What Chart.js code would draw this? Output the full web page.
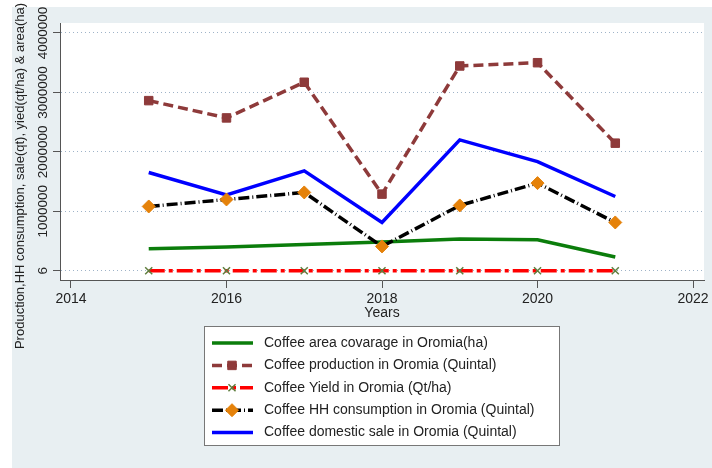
<!DOCTYPE html>
<html lang="en">
<head>
    <meta charset="UTF-8">
    <title>Coffee in Oromia</title>
    <style>
        body {
            margin: 0;
            padding: 0;
            background-color: #ffffff;
        }
        #wrap {
            width: 712px;
            height: 468px;
        }
    </style>
    <script src="https://cdn.jsdelivr.net/npm/chart.js"></script>
</head>
<body>

<div id="wrap">
    <canvas id="coffeeChart" width="712" height="468"></canvas>
</div>

<script>
    // Data
    const years = [2015, 2016, 2017, 2018, 2019, 2020, 2021];
    const areaHa = [370000, 400000, 440000, 482000, 533000, 521000, 230000];
    const production = [2862000, 2571000, 3171000, 1289000, 3445000, 3500000, 2146000];
    const yieldQtHa = [6, 6, 6, 6, 6, 6, 6];
    const hhConsumption = [1081000, 1199000, 1317000, 409000, 1098000, 1474000, 812000];
    const domesticSale = [1652000, 1277000, 1680000, 812000, 2202000, 1837000, 1249000];

    const xTicks = [2014, 2016, 2018, 2020, 2022];
    const yTicks = [6, 1000000, 2000000, 3000000, 4000000];
    const yTickLabels = ['6', '1000000', '2000000', '3000000', '4000000'];

    const seriesNames = [
        'Coffee area covarage in Oromia(ha)',
        'Coffee production in Oromia (Quintal)',
        'Coffee Yield in Oromia (Qt/ha)',
        'Coffee HH consumption in Oromia (Quintal)',
        'Coffee domestic sale in Oromia (Quintal)'
    ];

    const FONT = '"Liberation Sans", Arial, sans-serif';
    const toXY = vals => years.map((yr, i) => ({ x: yr, y: vals[i] }));

    // background, white plot area, y labels, titles and the boxed legend
    const decorations = {
        id: 'decorations',
        beforeDraw(chart) {
            const { ctx, chartArea } = chart;
            ctx.save();
            ctx.fillStyle = '#ffffff';
            ctx.fillRect(0, 0, chart.width, chart.height);
            ctx.fillStyle = '#e8eff2';
            ctx.fillRect(12, 7, chart.width - 12, chart.height - 7);
            ctx.fillStyle = '#ffffff';
            ctx.fillRect(chartArea.left, chartArea.top, chartArea.right - chartArea.left, chartArea.bottom - chartArea.top);
            ctx.restore();
        },
        afterDraw(chart) {
            const { ctx, chartArea } = chart;
            const yScale = chart.scales.y;
            ctx.save();
            ctx.fillStyle = '#222';

            // rotated y tick labels
            ctx.font = '13.5px ' + FONT;
            ctx.textAlign = 'center';
            ctx.textBaseline = 'middle';
            yTicks.forEach((v, i) => {
                ctx.save();
                ctx.translate(43, yScale.getPixelForValue(v));
                ctx.rotate(-Math.PI / 2);
                ctx.fillText(yTickLabels[i], 0, 0);
                ctx.restore();
            });

            // y title
            ctx.font = '13px ' + FONT;
            ctx.save();
            ctx.translate(20, 176);
            ctx.rotate(-Math.PI / 2);
            ctx.fillText('Production,HH consumption, sale(qt), yied(qt/ha) & area(ha)', 0, 0);
            ctx.restore();

            // x title
            ctx.font = '14px ' + FONT;
            ctx.fillText('Years', (chartArea.left + chartArea.right) / 2, 313);

            // legend box
            const bx = 204.5, by = 326.5, bw = 355, bh = 119;
            ctx.fillStyle = '#ffffff';
            ctx.fillRect(bx, by, bw, bh);
            ctx.strokeStyle = '#777';
            ctx.lineWidth = 1;
            ctx.strokeRect(bx, by, bw, bh);

            chart.data.datasets.forEach((ds, i) => {
                const cy = 343 + i * 22.4;
                ctx.save();
                ctx.strokeStyle = ds.borderColor;
                ctx.lineWidth = ds.borderWidth;
                ctx.setLineDash(ds.borderDash || []);
                ctx.beginPath();
                ctx.moveTo(212, cy);
                ctx.lineTo(253, cy);
                ctx.stroke();
                ctx.restore();
                if (ds.pointRadius > 0) {
                    ctx.save();
                    ctx.fillStyle = ds.pointBackgroundColor;
                    ctx.strokeStyle = ds.pointBorderColor;
                    ctx.lineWidth = ds.pointBorderWidth;
                    Chart.helpers.drawPoint(ctx, {
                        pointStyle: ds.pointStyle,
                        radius: ds.pointRadius,
                        rotation: 0,
                        borderWidth: ds.pointBorderWidth
                    }, 232, cy);
                    ctx.restore();
                }
                ctx.fillStyle = '#222';
                ctx.font = '14px ' + FONT;
                ctx.textAlign = 'left';
                ctx.textBaseline = 'middle';
                ctx.fillText(seriesNames[i], 264, cy);
            });
            ctx.restore();
        }
    };

    const ctx = document.getElementById('coffeeChart').getContext('2d');
    const coffeeChart = new Chart(ctx, {
        type: 'line',
        data: {
            datasets: [
                {
                    label: seriesNames[0], data: toXY(areaHa),
                    borderColor: '#0b7d0b', borderWidth: 3.5, pointRadius: 0, order: 4
                },
                {
                    label: seriesNames[1], data: toXY(production),
                    borderColor: '#8e3a3a', borderWidth: 3.5, borderDash: [10, 5],
                    pointStyle: 'rect', pointRadius: 6, pointBackgroundColor: '#8e3a3a',
                    pointBorderColor: '#8e3a3a', pointBorderWidth: 1, order: 1
                },
                {
                    label: seriesNames[2], data: toXY(yieldQtHa),
                    borderColor: '#ff0000', borderWidth: 3.5, borderDash: [16, 4, 4, 4],
                    pointStyle: 'crossRot', pointRadius: 5, pointBackgroundColor: '#5f7f3f',
                    pointBorderColor: '#5f7f3f', pointBorderWidth: 1.5, order: 3
                },
                {
                    label: seriesNames[3], data: toXY(hhConsumption),
                    borderColor: '#000000', borderWidth: 3.5, borderDash: [11, 3, 1, 3],
                    pointStyle: 'rectRot', pointRadius: 6.5, pointBackgroundColor: '#e5820a',
                    pointBorderColor: '#e5820a', pointBorderWidth: 1, order: 2
                },
                {
                    label: seriesNames[4], data: toXY(domesticSale),
                    borderColor: '#0000ff', borderWidth: 3.5, pointRadius: 0, order: 5
                }
            ]
        },
        options: {
            responsive: false,
            animation: false,
            layout: { padding: { top: 23, right: 8, left: 0, bottom: 0 } },
            plugins: {
                legend: { display: false },
                tooltip: { enabled: false }
            },
            scales: {
                x: {
                    type: 'linear',
                    min: 2013.859,
                    max: 2022.141,
                    afterBuildTicks: s => { s.ticks = xTicks.map(v => ({ value: v })); },
                    afterFit: s => { s.height = 188; },
                    ticks: {
                        autoSkip: false,
                        maxRotation: 0,
                        padding: 3,
                        color: '#222',
                        font: { family: FONT, size: 14 },
                        callback: v => String(v)
                    },
                    grid: { drawOnChartArea: false, drawTicks: true, tickLength: 8, tickColor: '#555' },
                    border: { color: '#555', width: 1 }
                },
                y: {
                    type: 'linear',
                    min: -156000,
                    max: 4168000,
                    afterBuildTicks: s => { s.ticks = yTicks.map(v => ({ value: v })); },
                    afterFit: s => { s.width = 60; },
                    ticks: { display: false },
                    grid: { color: '#9fb3c8', lineWidth: 1, tickLength: 7, tickColor: '#555' },
                    border: { color: '#555', width: 1, dash: [1, 3] }
                }
            }
        },
        plugins: [decorations]
    });
</script>

</body>
</html>
